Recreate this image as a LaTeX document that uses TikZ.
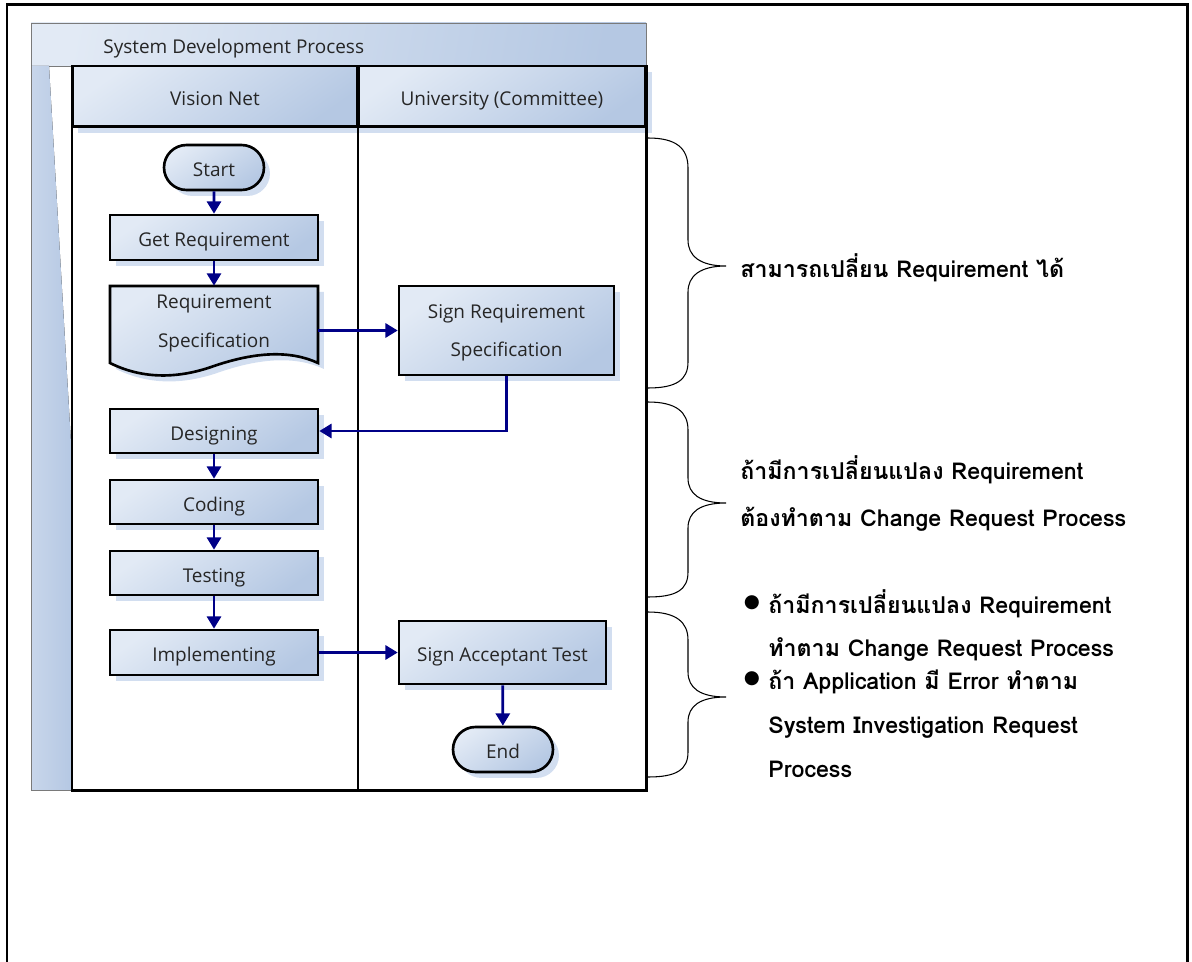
\documentclass[tikz,border=0pt]{standalone}
\usepackage{fontspec}
\setmainfont{Open Sans}
\newfontfamily\thaifont[Script=Thai]{Loma}
\newfontfamily\symfont{DejaVu Sans}
\usetikzlibrary{shapes.misc,shadows,arrows.meta,calc}
\definecolor{gl}{HTML}{E2EAF5}
\definecolor{gd}{HTML}{B5C8E3}
\definecolor{gm}{HTML}{C8D6EB}
\definecolor{shc}{HTML}{D2DEF0}
\definecolor{navy}{RGB}{0,0,135}
\definecolor{poolgray}{HTML}{7A7A7A}
\tikzset{
  grad/.style={top color=gl, bottom color=gd, shading angle=35},
  shad/.style={drop shadow={shadow xshift=3.4pt, shadow yshift=-3.4pt, fill=shc, opacity=1}},
  lbl/.style={font=\fontsize{10.8}{13}\selectfont, text=black!85, text height=1.3em, text depth=0.25em},
  lbltwo/.style={font=\fontsize{10.8}{13}\selectfont, text=black!85, text depth=-0.1em, align=center},
  procbox/.style={rectangle, draw=black, line width=1.5pt, grad, shad, inner sep=0pt, lbl, align=center},
  procboxtwo/.style={rectangle, draw=black, line width=1.5pt, grad, shad, inner sep=0pt, lbltwo},
  termbox/.style={rounded rectangle, draw=black, line width=1.5pt, grad, shad, inner sep=0pt, lbl},
  laneline/.style={draw=black, line width=1.7pt},
  laneheader/.style={rectangle, draw=black, line width=1.7pt, grad, shad, inner sep=0pt, lbl},
  arr/.style={draw=navy, line width=1.6pt, -{Triangle[length=7pt,width=8pt]}},
  bracepath/.style={draw=black, line width=0.6pt},
  notetext/.style={font=\thaifont\bfseries\fontsize{13.2}{15.5}\selectfont, anchor=west, align=left, inner sep=0pt},
  bulletmark/.style={font=\symfont\fontsize{10.5}{12}\selectfont, inner sep=0pt},
}
\begin{document}
\begin{tikzpicture}[x=0.02cm, y=-0.02cm]
\useasboundingbox (0,0) rectangle (1192,962);
% outer frame (bottom edge lies outside the picture)
\draw[line width=1.7pt] (7,970) -- (7,5) -- (1187,5) -- (1187,970);
% pool title bar
\draw[draw=poolgray, line width=0.5pt, left color=gl, right color=gd, shading angle=80] (31,23) rectangle (646,66);
\node[anchor=west, inner sep=0pt, lbl] (pooltitle) at (103,44) {System Development Process};
% pool left strip
\fill[left color=gm, right color=gd] (31,66) -- (49,66) -- (71,443) -- (72,443) -- (72,790) -- (31,790) -- cycle;
\draw[draw=poolgray, line width=0.5pt] (31,66) -- (31,790) -- (72,790);
% lane headers
\node[laneheader, minimum width=5.72cm, minimum height=1.22cm] (hvn) at (215,96.5) {Vision Net};
\node[laneheader, minimum width=5.76cm, minimum height=1.22cm] (huni) at (502,96.5) {University (Committee)};
% lane bodies
\draw[laneline] (72,66) rectangle (358,790);
\draw[laneline] (358,66) rectangle (646,790);
% flow nodes
\node[termbox, minimum width=2cm, minimum height=0.9cm] (start) at (214,167.5) {Start};
\node[procbox, minimum width=4.16cm, minimum height=0.9cm] (getreq) at (214,237.5) {Get Requirement};
\path[draw=black, line width=1.5pt, grad, shad]
  (110,286) -- (318,286) -- (318,363)
  .. controls (290,350) and (255,352) .. (214,366)
  .. controls (175,380) and (140,378) .. (110,363) -- cycle;
\node[inner sep=0pt, minimum width=4.16cm, minimum height=1.4cm, lbltwo] (reqspec) at (214,321) {Requirement\\[9pt]Specification};
\node[procboxtwo, minimum width=4.3cm, minimum height=1.78cm] (signreq) at (506.5,330.5) {Sign Requirement\\[9pt]Specification};
\node[procbox, minimum width=4.16cm, minimum height=0.88cm] (design) at (214,431) {Designing};
\node[procbox, minimum width=4.16cm, minimum height=0.88cm] (coding) at (214,502) {Coding};
\node[procbox, minimum width=4.16cm, minimum height=0.88cm] (testing) at (214,573) {Testing};
\node[procbox, minimum width=4.16cm, minimum height=0.9cm] (impl) at (214,652.5) {Implementing};
\node[procbox, minimum width=4.14cm, minimum height=1.26cm] (signacc) at (502.5,652.5) {Sign Acceptant Test};
\node[termbox, minimum width=2cm, minimum height=0.9cm] (end) at (503,749.5) {End};
% connectors
\draw[arr] (start) -- (getreq);
\draw[arr] (getreq) -- (reqspec);
\draw[arr] (reqspec.east |- signreq.west) -- (signreq.west);
\draw[arr] (signreq.south) |- (design.east);
\draw[arr] (design) -- (coding);
\draw[arr] (coding) -- (testing);
\draw[arr] (testing) -- (impl);
\draw[arr] (impl) -- (signacc);
\draw[arr] (signacc) -- (end);
% braces
\draw[bracepath] (648,138) .. controls (676,138) and (688,148) .. (688,168) -- (688,240)
  .. controls (688,256) and (700,266) .. (726,266)
  .. controls (700,266) and (688,276) .. (688,292) -- (688,362)
  .. controls (688,380) and (676,388) .. (648,388);
\draw[bracepath] (648,402) .. controls (676,402) and (688,412) .. (688,430) -- (688,478)
  .. controls (688,494) and (700,503) .. (726,503)
  .. controls (700,503) and (688,512) .. (688,528) -- (688,572)
  .. controls (688,590) and (676,597) .. (648,597);
\draw[bracepath] (648,612) .. controls (676,612) and (688,622) .. (688,640) -- (688,672)
  .. controls (688,688) and (700,697) .. (726,697)
  .. controls (700,697) and (688,706) .. (688,722) -- (688,752)
  .. controls (688,770) and (676,777) .. (648,777);
% notes
\node[notetext] (note1) at (740,268) {สามารถเปลี่ยน Requirement ได้};
\node[notetext] (note2) at (740,493.5) {ถ้ามีการเปลี่ยนแปลง Requirement\\[11pt]ต้องทำตาม Change Request Process};
\node[bulletmark] (bul1) at (752,603) {●};
\node[notetext] (note3) at (768,625.5) {ถ้ามีการเปลี่ยนแปลง Requirement\\[9.5pt]ทำตาม Change Request Process};
\node[bulletmark] (bul2) at (752,679) {●};
\node[notetext] (note4) at (768,724) {ถ้า Application มี Error ทำตาม\\[9.5pt]System Investigation Request\\[9.5pt]Process};
\end{tikzpicture}
\end{document}
